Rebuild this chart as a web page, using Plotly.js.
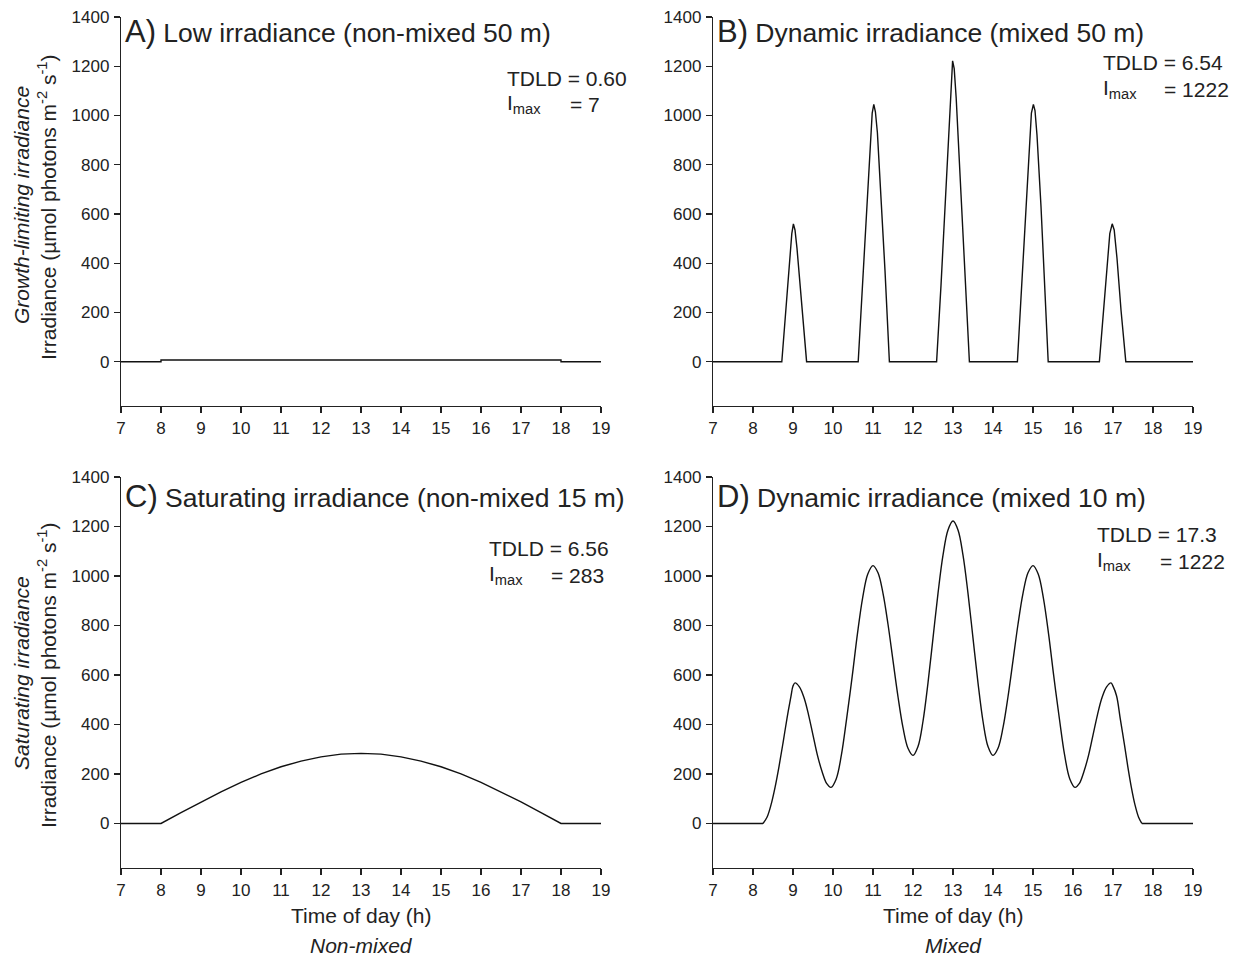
<!DOCTYPE html>
<html>
<head>
<meta charset="utf-8">
<script src="https://cdn.plot.ly/plotly-3.0.1.min.js"></script>
<style>html,body{margin:0;padding:0;background:#fff;}#chart{width:1236px;height:958px;}</style>
</head>
<body>
<div id="chart"></div>
<script>
// ---- Data (hours, irradiance µmol photons m-2 s-1) ----
const timeA = [7, 8, 8, 18, 18, 19];
const irrA  = [0, 0, 7, 7, 0, 0];

const timeB = [7, 8.72, 8.85, 8.93, 8.97, 9.01, 9.05, 9.1, 9.2, 9.34,
  10.63, 10.75, 10.85, 10.93, 10.98, 11.02, 11.06, 11.11, 11.2, 11.3, 11.41,
  12.59, 12.7, 12.8, 12.9, 12.95, 12.99, 13.03, 13.08, 13.2, 13.3, 13.41,
  14.61, 14.7, 14.8, 14.9, 14.96, 15.01, 15.05, 15.1, 15.2, 15.3, 15.38,
  16.66, 16.75, 16.85, 16.92, 16.98, 17.03, 17.1, 17.2, 17.32, 19];
const irrB  = [0, 0, 270, 440, 520, 560, 535, 460, 260, 0,
  0, 350, 650, 880, 1010, 1045, 1015, 930, 670, 370, 0,
  0, 310, 620, 930, 1120, 1222, 1190, 1070, 680, 360, 0,
  0, 270, 570, 870, 1010, 1045, 1020, 920, 630, 280, 0,
  0, 170, 380, 520, 560, 535, 420, 210, 0, 0];

const timeC = [7, 8, 8.5, 9, 9.5, 10, 10.5, 11, 11.5, 12, 12.5, 13, 13.5, 14, 14.5, 15, 15.5, 16, 16.5, 17, 17.5, 18, 19];
const irrC  = [0, 0, 44, 87, 128, 166, 200, 229, 252, 269, 280, 283, 280, 269, 252, 229, 200, 166, 128, 87, 44, 0, 0];

// mixed 10 m: dark before/after, oscillating light in between
const timeDdark1 = [7, 8.25];
const irrDdark1  = [0, 0];
const timeD = [8.25, 8.35, 8.45, 8.55, 8.65, 8.75, 8.85, 8.95, 9.0, 9.05,
  9.16, 9.28, 9.39, 9.5, 9.61, 9.73, 9.84, 9.95,
  10.08, 10.21, 10.34, 10.48, 10.61, 10.74, 10.87, 11.0,
  11.125, 11.25, 11.375, 11.5, 11.625, 11.75, 11.875, 12.0,
  12.125, 12.25, 12.375, 12.5, 12.625, 12.75, 12.875, 13.0,
  13.125, 13.25, 13.375, 13.5, 13.625, 13.75, 13.875, 14.0,
  14.125, 14.25, 14.375, 14.5, 14.625, 14.75, 14.875, 15.0,
  15.13, 15.26, 15.39, 15.52, 15.66, 15.79, 15.92, 16.05,
  16.16, 16.27, 16.39, 16.5, 16.61, 16.72, 16.84, 16.95,
  17.0, 17.09, 17.18, 17.28, 17.37, 17.46, 17.55, 17.64, 17.72];
const irrD  = [0, 25, 75, 145, 230, 325, 425, 515, 555, 568,
  552, 506, 438, 357, 276, 208, 162, 146,
  180, 277, 423, 594, 765, 911, 1008, 1042,
  1013, 930, 805, 658, 512, 387, 304, 275,
  311, 413, 568, 749, 930, 1084, 1186, 1222,
  1186, 1084, 930, 749, 568, 413, 311, 275,
  304, 387, 512, 658, 805, 930, 1013, 1042,
  1008, 911, 765, 594, 423, 277, 180, 146,
  162, 208, 276, 357, 438, 506, 552, 568,
  555, 515, 425, 325, 230, 145, 75, 25, 0];
const timeDdark2 = [17.72, 19];
const irrDdark2  = [0, 0];

const xTicks = [7, 8, 9, 10, 11, 12, 13, 14, 15, 16, 17, 18, 19];
const yTicks = [0, 200, 400, 600, 800, 1000, 1200, 1400];

const panelTitles = ["Low irradiance (non-mixed 50 m)", "Dynamic irradiance (mixed 50 m)",
                     "Saturating irradiance (non-mixed 15 m)", "Dynamic irradiance (mixed 10 m)"];
const panelLetters = ["A)", "B)", "C)", "D)"];
const tdld = ["0.60", "6.54", "6.56", "17.3"];
const imax = ["7", "1222", "283", "1222"];

// ---- Layout helpers ----
const W = 1236, H = 958;
const px = v => v / W;
const py = v => 1 - v / H;
const INK = '#222';
const FONT = 'Liberation Sans, Arial, sans-serif';

const lineStyle = {color: '#111', width: 1.4};
const traces = [
  {x: timeA, y: irrA, xaxis: 'x', yaxis: 'y', mode: 'lines', line: lineStyle},
  {x: timeB, y: irrB, xaxis: 'x2', yaxis: 'y2', mode: 'lines', line: lineStyle},
  {x: timeC, y: irrC, xaxis: 'x3', yaxis: 'y3', mode: 'lines', line: lineStyle},
  {x: timeDdark1, y: irrDdark1, xaxis: 'x4', yaxis: 'y4', mode: 'lines', line: lineStyle},
  {x: timeD, y: irrD, xaxis: 'x4', yaxis: 'y4', mode: 'lines', line: Object.assign({shape: 'spline', smoothing: 1}, lineStyle)},
  {x: timeDdark2, y: irrDdark2, xaxis: 'x4', yaxis: 'y4', mode: 'lines', line: lineStyle}
];

function xa(dom, anchor) {
  return {domain: dom, anchor: anchor, range: [7, 19], tickvals: xTicks, ticks: 'outside', ticklen: 6,
    tickwidth: 1.2, tickcolor: INK, showline: true, linecolor: INK, linewidth: 1.2, showgrid: false,
    zeroline: false, tickfont: {size: 17, color: INK, family: FONT}, fixedrange: true};
}
function ya(dom, anchor) {
  return {domain: dom, anchor: anchor, range: [-180, 1400], tickvals: yTicks, ticks: 'outside', ticklen: 6,
    tickwidth: 1.2, tickcolor: INK, showline: true, linecolor: INK, linewidth: 1.2, showgrid: false,
    zeroline: false, tickfont: {size: 17, color: INK, family: FONT}, ticklabelstandoff: 1, fixedrange: true};
}

const colL = [px(121), px(601)], colR = [px(713), px(1193)];
const rowT = [py(406), py(17)], rowB = [py(868), py(477)];

const annotations = [];
const ann = (text, x, y, opts) => annotations.push(Object.assign({
  text: text, x: px(x), y: py(y), xref: 'paper', yref: 'paper', showarrow: false,
  xanchor: 'left', yanchor: 'middle', font: {size: 21, color: INK, family: FONT}}, opts || {}));

const titlePos = [[123, 32], [715, 32], [123, 497], [715, 497]];
for (let i = 0; i < 4; i++) {
  ann('<span style="font-size:31px">' + panelLetters[i] + '</span> ' + panelTitles[i],
      titlePos[i][0], titlePos[i][1], {font: {size: 26.5, color: INK, family: FONT}});
}
const statPos = [[505, 78, 104, 568], [1101, 62, 89, 1162], [487, 548, 575, 549], [1095, 534, 561, 1158]];
for (let i = 0; i < 4; i++) {
  const s = statPos[i];
  ann('TDLD = ' + tdld[i], s[0], s[1]);
  ann('I<sub>max</sub>', s[0], s[2]);
  ann('= ' + imax[i], s[3], s[2]);
}
// y-axis titles
const yTitleMain = 'Irradiance (µmol photons m<sup>-2</sup> s<sup>-1</sup>)';
ann('<i>Growth-limiting irradiance</i>', 21, 205, {textangle: -90, xanchor: 'center'});
ann(yTitleMain, 47, 207, {textangle: -90, xanchor: 'center'});
ann('<i>Saturating irradiance</i>', 21, 673, {textangle: -90, xanchor: 'center'});
ann(yTitleMain, 47, 675, {textangle: -90, xanchor: 'center'});
// x-axis titles
ann('Time of day (h)', 361, 915, {xanchor: 'center'});
ann('Time of day (h)', 953, 915, {xanchor: 'center'});
ann('<i>Non-mixed</i>', 361, 945, {xanchor: 'center'});
ann('<i>Mixed</i>', 953, 945, {xanchor: 'center'});

const layout = {
  width: W, height: H, margin: {l: 0, r: 0, t: 0, b: 0},
  paper_bgcolor: '#fff', plot_bgcolor: '#fff', showlegend: false,
  font: {family: FONT, color: INK},
  xaxis: xa(colL, 'y'), yaxis: ya(rowT, 'x'),
  xaxis2: xa(colR, 'y2'), yaxis2: ya(rowT, 'x2'),
  xaxis3: xa(colL, 'y3'), yaxis3: ya(rowB, 'x3'),
  xaxis4: xa(colR, 'y4'), yaxis4: ya(rowB, 'x4'),
  annotations: annotations
};
Plotly.newPlot('chart', traces, layout, {staticPlot: true, displayModeBar: false});
</script>
</body>
</html>
